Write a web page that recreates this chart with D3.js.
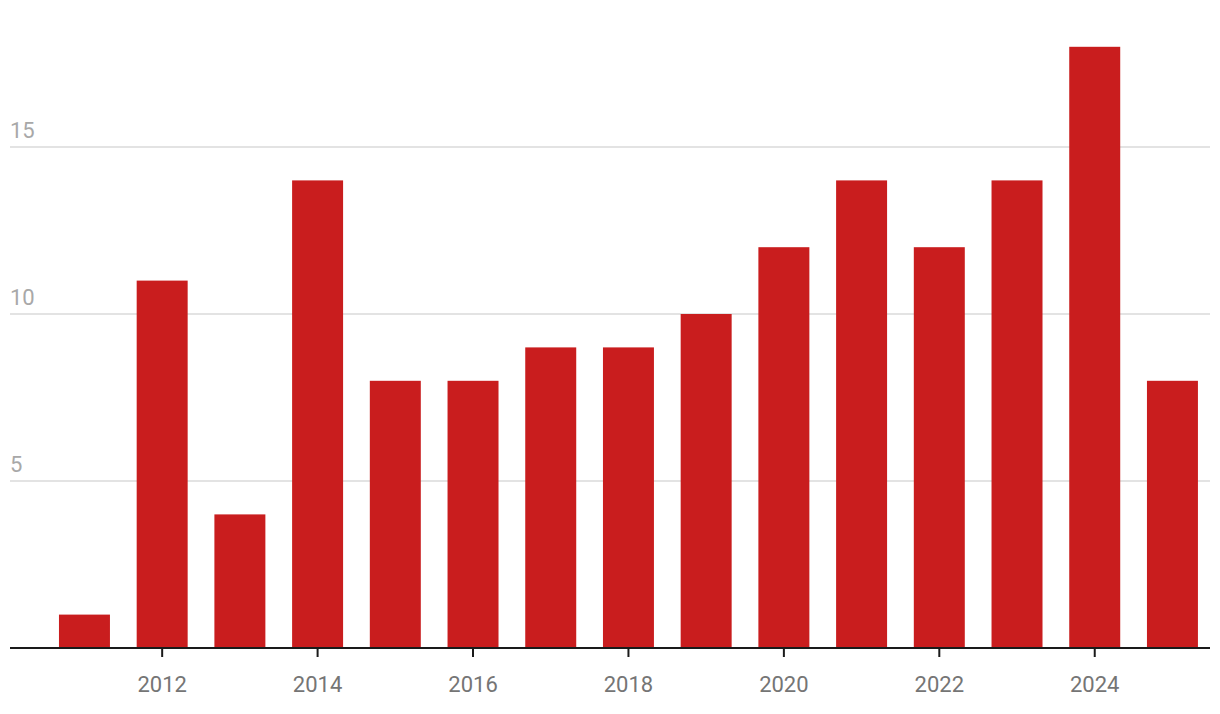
<!DOCTYPE html>
<html><head><meta charset="utf-8">
<script src="https://cdn.jsdelivr.net/npm/d3@7"></script>
<style>body{margin:0;background:#fff}svg{display:block;font-family:Roboto,sans-serif}</style>
</head><body>
<svg id="c" width="1220" height="714"></svg>
<script>
const years = [2011,2012,2013,2014,2015,2016,2017,2018,2019,2020,2021,2022,2023,2024,2025];
const values = [1,11,4,14,8,8,9,9,10,12,14,12,14,18,8];
const yTicks = [5,10,15];
const xTickYears = [2012,2014,2016,2018,2020,2022,2024];

const svg = d3.select("#c");
const left = 10, right = 1210, bottom = 648;
const x = d3.scaleBand().domain(years).range([45.6, 1211.3]).paddingInner(0.344).paddingOuter(0.172);
const y = d3.scaleLinear().domain([0, 15]).range([bottom, 147]);

svg.append("g").selectAll("line").data(yTicks).join("line")
  .attr("x1", left).attr("x2", right)
  .attr("y1", d => y(d)).attr("y2", d => y(d))
  .attr("stroke", "#e3e3e3").attr("stroke-width", 2);
svg.append("g").selectAll("text").data(yTicks).join("text")
  .attr("x", left).attr("y", d => y(d) - 9)
  .attr("fill", "#a8a8a8").attr("font-size", 22).text(d => d);

svg.append("g").selectAll("rect").data(years).join("rect")
  .attr("x", d => x(d)).attr("width", x.bandwidth())
  .attr("y", (d,i) => y(values[i])).attr("height", (d,i) => bottom - y(values[i]))
  .attr("fill", "#c91d1e");

svg.append("line").attr("x1", left).attr("x2", right).attr("y1", bottom).attr("y2", bottom)
  .attr("stroke", "#1a1a1a").attr("stroke-width", 2);
const xt = svg.append("g").selectAll("g").data(xTickYears).join("g")
  .attr("transform", d => `translate(${x(d) + x.bandwidth()/2},0)`);
xt.append("line").attr("y1", bottom).attr("y2", bottom + 9).attr("stroke", "#1a1a1a").attr("stroke-width", 2);
xt.append("text").attr("y", 692).attr("text-anchor", "middle").attr("fill", "#757575").attr("font-size", 22).text(d => d);
</script>
</body></html>
